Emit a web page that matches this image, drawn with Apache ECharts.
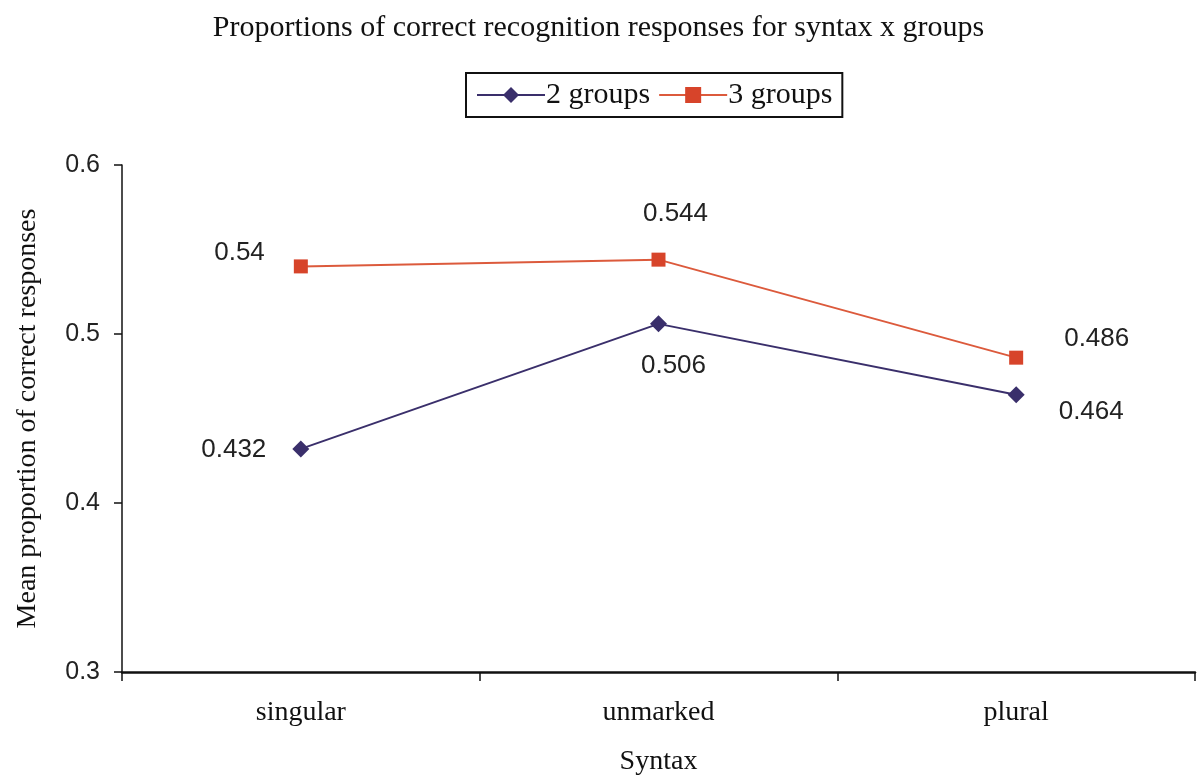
<!DOCTYPE html>
<html>
<head>
<meta charset="utf-8">
<script src="https://cdn.jsdelivr.net/npm/echarts@6/dist/echarts.min.js"></script>
<style>
  html, body { margin: 0; padding: 0; background: #fff; }
  #chart { width: 1197px; height: 778px; }
</style>
</head>
<body>
<div id="chart"></div>
<script>
// Syntax categories and mean proportions of correct recognition responses
const categories = ['singular', 'unmarked', 'plural'];
const twoGroups = [0.432, 0.506, 0.464];
const threeGroups = [0.54, 0.544, 0.486];
const yTicks = [0.3, 0.4, 0.5, 0.6];

const serif = '"Liberation Serif", "DejaVu Serif", serif';
const sans = '"Liberation Sans", Arial, sans-serif';

// Value label placement per point
const labelTwo = [
  { position: 'left', distance: 26, offset: [0, 1] },
  { position: 'bottom', distance: 20, offset: [15, 0] },
  { position: 'right', distance: 34, offset: [0, 17] }
];
const labelThree = [
  { position: 'left', distance: 29, offset: [0, -14] },
  { position: 'top', distance: 26, offset: [17, 0] },
  { position: 'right', distance: 41, offset: [0, -19] }
];

function build(values, placement) {
  return values.map((v, i) => ({
    value: v,
    label: Object.assign({ show: true, formatter: String(v) }, placement[i])
  }));
}

const chart = echarts.init(document.getElementById('chart'));
chart.setOption({
  animation: false,
  backgroundColor: '#fff',
  title: {
    text: 'Proportions of correct recognition responses for syntax x groups',
    left: 'center',
    top: 8,
    textStyle: { fontFamily: serif, fontWeight: 'normal', fontSize: 30, color: '#111' }
  },
  legend: {
    top: 73,
    left: 466,
    itemWidth: 68,
    itemHeight: 20,
    itemGap: 8,
    padding: [7, 10, 7, 10],
    borderColor: '#111',
    borderWidth: 2,
    textStyle: { fontFamily: serif, fontSize: 30, color: '#111', padding: [0, 0, 0, -4] },
    data: ['2 groups', '3 groups']
  },
  grid: { left: 122, right: 2, top: 165, bottom: 106, outerBoundsMode: 'none', containLabel: false },
  xAxis: {
    type: 'category',
    data: categories,
    boundaryGap: true,
    name: 'Syntax',
    nameLocation: 'middle',
    nameGap: 76,
    nameTextStyle: { fontFamily: serif, fontSize: 28, color: '#111' },
    axisLine: { lineStyle: { color: '#111', width: 2.5 } },
    axisTick: { show: true, length: 9, lineStyle: { color: '#111', width: 1.5 } },
    axisLabel: { fontFamily: serif, fontSize: 28, color: '#111', margin: 27 }
  },
  yAxis: {
    type: 'value',
    min: yTicks[0],
    max: yTicks[yTicks.length - 1],
    interval: 0.1,
    name: 'Mean proportion of correct responses',
    nameLocation: 'middle',
    nameGap: 80,
    nameTextStyle: { fontFamily: serif, fontSize: 28, color: '#111' },
    axisLine: { show: true, lineStyle: { color: '#111', width: 1.5 } },
    axisTick: { show: true, length: 8, lineStyle: { color: '#111', width: 1.5 } },
    splitLine: { show: false },
    axisLabel: {
      fontFamily: sans, fontSize: 25, color: '#222', margin: 22,
      formatter: v => String(Math.round(v * 10) / 10)
    }
  },
  series: [
    {
      name: '2 groups',
      type: 'line',
      data: build(twoGroups, labelTwo),
      symbol: 'diamond',
      symbolSize: 17,
      color: '#3a2f6b',
      lineStyle: { color: '#3a2f6b', width: 2 },
      itemStyle: { color: '#3a2f6b' },
      label: { fontFamily: sans, fontSize: 26, color: '#222' }
    },
    {
      name: '3 groups',
      type: 'line',
      data: build(threeGroups, labelThree),
      symbol: 'rect',
      symbolSize: 14,
      color: '#d7442a',
      lineStyle: { color: '#dc5a3c', width: 2 },
      itemStyle: { color: '#d7442a' },
      label: { fontFamily: sans, fontSize: 26, color: '#222' }
    }
  ]
});
</script>
</body>
</html>
